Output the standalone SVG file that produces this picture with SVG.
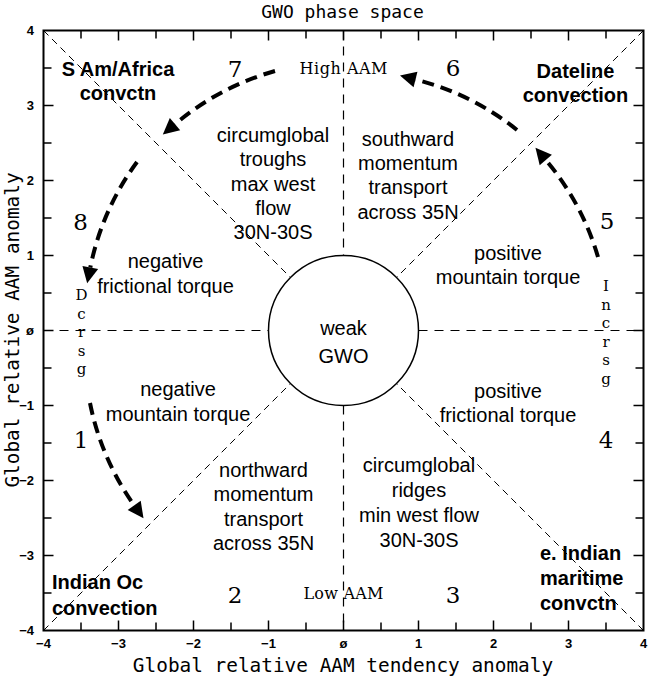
<svg xmlns="http://www.w3.org/2000/svg" width="650" height="678" viewBox="0 0 650 678">
<style>
.frame{fill:none;stroke:#000;stroke-width:2}
.tick{stroke:#000;stroke-width:1.5}
.axd{fill:none;stroke:#000;stroke-width:1.2;stroke-dasharray:9 7}
.dg{fill:none;stroke:#000;stroke-width:1;stroke-dasharray:7 5}
.arr{fill:none;stroke:#000;stroke-width:4;stroke-dasharray:12 7}
.t{font-family:"Liberation Sans",Arial,sans-serif;font-size:20px;text-anchor:middle;fill:#000}
.b{font-family:"Liberation Sans",Arial,sans-serif;font-size:20px;font-weight:bold;fill:#000}
.n{font-family:"DejaVu Serif","Liberation Serif",serif;font-size:23px;text-anchor:middle;fill:#000}
.s{font-family:"DejaVu Serif","Liberation Serif",serif;font-size:16px;text-anchor:middle;fill:#000}
.v{font-family:"DejaVu Serif","Liberation Serif",serif;font-size:15px;text-anchor:middle;fill:#000}
.m{font-family:"DejaVu Sans Mono","Liberation Mono",monospace;text-anchor:middle;fill:#000}
.tl{font-family:"Liberation Sans",Arial,sans-serif;font-size:13px;font-weight:bold;fill:#000}
</style>
<defs>
<marker id="ah" markerUnits="userSpaceOnUse" markerWidth="16" markerHeight="16" viewBox="0 -8 16 16" refX="0" refY="0" orient="auto" overflow="visible">
<path d="M0,-8 L16,0 L0,8 Z" fill="#000"/>
</marker>
</defs>
<rect width="650" height="678" fill="#fff"/>

<g id="title">
<text class="m" x="342.5" y="18" font-size="18">GWO phase space</text>
</g>

<g id="axes">
<rect class="frame" x="43.5" y="30.5" width="600" height="600"/>
<g id="ticks">
<path class="tick" d="M81 30.5v8M118.5 30.5v10M156 30.5v8M193.5 30.5v10M231 30.5v8M268.5 30.5v10M306 30.5v8M343.5 30.5v10M381 30.5v8M418.5 30.5v10M456 30.5v8M493.5 30.5v10M531 30.5v8M568.5 30.5v10M606 30.5v8"/>
<path class="tick" d="M81 630.5v-8M118.5 630.5v-10M156 630.5v-8M193.5 630.5v-10M231 630.5v-8M268.5 630.5v-10M306 630.5v-8M343.5 630.5v-10M381 630.5v-8M418.5 630.5v-10M456 630.5v-8M493.5 630.5v-10M531 630.5v-8M568.5 630.5v-10M606 630.5v-8"/>
<path class="tick" d="M43.5 68h8M43.5 105.5h10M43.5 143h8M43.5 180.5h10M43.5 218h8M43.5 255.5h10M43.5 293h8M43.5 330.5h10M43.5 368h8M43.5 405.5h10M43.5 443h8M43.5 480.5h10M43.5 518h8M43.5 555.5h10M43.5 593h8"/>
<path class="tick" d="M643.5 68h-8M643.5 105.5h-10M643.5 143h-8M643.5 180.5h-10M643.5 218h-8M643.5 255.5h-10M643.5 293h-8M643.5 330.5h-10M643.5 368h-8M643.5 405.5h-10M643.5 443h-8M643.5 480.5h-10M643.5 518h-8M643.5 555.5h-10M643.5 593h-8"/>
</g>
<g id="xticklabels" class="tl" text-anchor="middle">
<text x="43.5" y="648">−4</text>
<text x="118.5" y="648">−3</text>
<text x="193.5" y="648">−2</text>
<text x="268.5" y="648">−1</text>
<text x="343.5" y="648">ø</text>
<text x="418.5" y="648">1</text>
<text x="493.5" y="648">2</text>
<text x="568.5" y="648">3</text>
<text x="643.5" y="648">4</text>
</g>
<g id="yticklabels" class="tl" text-anchor="end">
<text x="34" y="35">4</text>
<text x="34" y="110">3</text>
<text x="34" y="185">2</text>
<text x="34" y="260">1</text>
<text x="34" y="335">ø</text>
<text x="34" y="410">−1</text>
<text x="34" y="485">−2</text>
<text x="34" y="560">−3</text>
<text x="34" y="635">−4</text>
</g>
<text class="m" x="343" y="671.5" font-size="19.4">Global relative AAM tendency anomaly</text>
<text class="m" transform="translate(18.5,330) rotate(-90)" font-size="19.4">Global relative AAM anomaly</text>
</g>

<g id="connectors">
<path class="axd" d="M343.5 30.5V255.5M343.5 405.5V630.5M43.5 330.5H268.5M418.5 330.5H643.5"/>
<path class="dg" d="M43.5 30.5L290.47 277.47M643.5 30.5L396.53 277.47M43.5 630.5L290.47 383.53M643.5 630.5L396.53 383.53"/>
<path class="arr" marker-end="url(#ah)" d="M275 71A265 265 0 0 0 175 124.2"/>
<path class="arr" marker-end="url(#ah)" d="M137 162A265 265 0 0 0 90.3 267.5"/>
<path class="arr" marker-end="url(#ah)" d="M90 403A265 265 0 0 0 134.2 505.3"/>
<path class="arr" marker-end="url(#ah)" d="M598 257A265 265 0 0 0 545.8 160"/>
<path class="arr" marker-end="url(#ah)" d="M517 130A265 265 0 0 0 415.5 79.5"/>
</g>

<g id="weak-gwo">
<circle cx="343.5" cy="330.5" r="75" fill="none" stroke="#000" stroke-width="1.5"/>
<text class="t" x="343.5" y="335" font-size="23">weak</text>
<text class="t" x="343.5" y="363" font-size="23">GWO</text>
</g>

<g id="phase7">
<text class="n" x="235" y="77">7</text>
<text class="b" x="118" y="76" text-anchor="middle">S Am/Africa</text>
<text class="b" x="118" y="100" text-anchor="middle">convctn</text>
</g>
<g id="phase6">
<text class="n" x="453" y="76">6</text>
<text class="b" x="575.5" y="78" text-anchor="middle">Dateline</text>
<text class="b" x="575.5" y="102" text-anchor="middle">convection</text>
</g>
<g id="phase8"><text class="n" x="80.5" y="230">8</text></g>
<g id="phase5"><text class="n" x="607" y="229">5</text></g>
<g id="phase1"><text class="n" x="81" y="448">1</text></g>
<g id="phase4"><text class="n" x="606" y="448">4</text></g>
<g id="phase2">
<text class="n" x="235" y="603">2</text>
<text class="b" x="52" y="589">Indian Oc</text>
<text class="b" x="52" y="615">convection</text>
</g>
<g id="phase3">
<text class="n" x="453" y="603">3</text>
<text class="b" x="540" y="560">e. Indian</text>
<text class="b" x="540" y="585">maritime</text>
<text class="b" x="540" y="610">convctn</text>
</g>

<g id="high-aam"><text class="s" x="343.5" y="74" textLength="88" lengthAdjust="spacing">High AAM</text></g>
<g id="low-aam"><text class="s" x="343.5" y="599" textLength="80" lengthAdjust="spacing">Low AAM</text></g>

<g id="dcrsg">
<text class="v"><tspan x="81.5" y="300">D</tspan><tspan x="81.5" y="318.5">c</tspan><tspan x="81.5" y="337">r</tspan><tspan x="81.5" y="355.5">s</tspan><tspan x="81.5" y="374">g</tspan></text>
</g>
<g id="incrsg">
<text class="v"><tspan x="606" y="291">I</tspan><tspan x="606" y="309.5">n</tspan><tspan x="606" y="328">c</tspan><tspan x="606" y="346.5">r</tspan><tspan x="606" y="365">s</tspan><tspan x="606" y="383.5">g</tspan></text>
</g>

<g id="sector-troughs">
<text class="t" x="273" y="141.5">circumglobal</text>
<text class="t" x="273" y="166">troughs</text>
<text class="t" x="273" y="190.5">max west</text>
<text class="t" x="273" y="215">flow</text>
<text class="t" x="273" y="239">30N-30S</text>
</g>
<g id="sector-southward">
<text class="t" x="408" y="145.5">southward</text>
<text class="t" x="408" y="170">momentum</text>
<text class="t" x="408" y="194">transport</text>
<text class="t" x="408" y="218.5">across 35N</text>
</g>
<g id="sector-neg-friction">
<text class="t" x="165.5" y="268">negative</text>
<text class="t" x="165.5" y="293">frictional torque</text>
</g>
<g id="sector-neg-mountain">
<text class="t" x="178" y="396">negative</text>
<text class="t" x="178" y="420.5">mountain torque</text>
</g>
<g id="sector-pos-mountain">
<text class="t" x="508" y="260">positive</text>
<text class="t" x="508" y="284">mountain torque</text>
</g>
<g id="sector-pos-friction">
<text class="t" x="508" y="398.3">positive</text>
<text class="t" x="508" y="421.7">frictional torque</text>
</g>
<g id="sector-northward">
<text class="t" x="263.5" y="476.5">northward</text>
<text class="t" x="263.5" y="501">momentum</text>
<text class="t" x="263.5" y="525.5">transport</text>
<text class="t" x="263.5" y="550">across 35N</text>
</g>
<g id="sector-ridges">
<text class="t" x="419" y="472.3">circumglobal</text>
<text class="t" x="419" y="496.7">ridges</text>
<text class="t" x="419" y="521.7">min west flow</text>
<text class="t" x="419" y="546.7">30N-30S</text>
</g>
</svg>
